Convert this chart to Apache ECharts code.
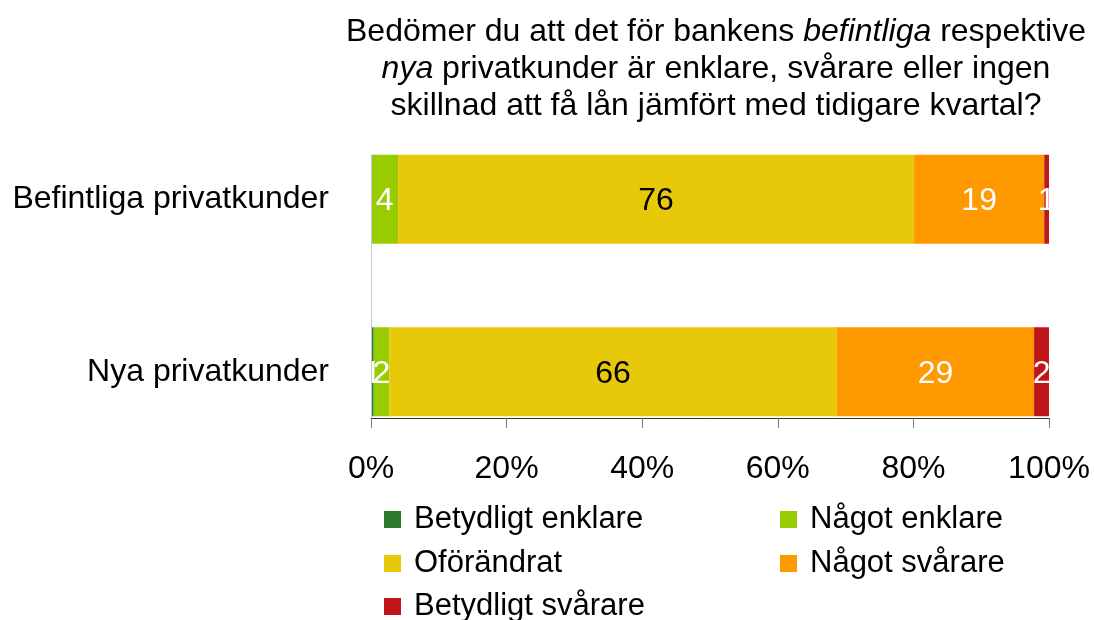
<!DOCTYPE html>
<html>
<head>
<meta charset="utf-8">
<script src="https://cdn.jsdelivr.net/npm/echarts@6/dist/echarts.min.js"></script>
<style>
	html, body { margin: 0; padding: 0; background: #fff; }
	#chart { width: 1094px; height: 620px; }
</style>
</head>
<body>
<div id="chart"></div>
<script>
const categories = ['Befintliga privatkunder', 'Nya privatkunder']
const seriesNames = ['Betydligt enklare', 'Något enklare', 'Oförändrat', 'Något svårare', 'Betydligt svårare']
const betydligtEnklare = [0, 0.4]
const nagotEnklare = [4.0, 2.3]
const oforandrat = [76.1, 66.0]
const nagotSvarare = [19.2, 29.1]
const betydligtSvarare = [0.7, 2.2]
const xTicks = [0, 20, 40, 60, 80, 100]

const colors = ['#2b7a2b', '#99cc00', '#e8c90a', '#ff9900', '#c0161a']
const labelColors = ['#fff', '#fff', '#000', '#fff', '#fff']
const values = [betydligtEnklare, nagotEnklare, oforandrat, nagotSvarare, betydligtSvarare]
const font = 'Liberation Sans, Arial, sans-serif'

// legend placement: [left, top] per series
const legendPos = [[379, 499], [775, 499], [379, 543], [775, 543], [379, 586]]

const chart = echarts.init(document.getElementById('chart'))

const option = {
	color: colors,
	animation: false,
	title: {
		text: 'Bedömer du att det för bankens {i|befintliga} respektive\n{i|nya} privatkunder är enklare, svårare eller ingen\nskillnad att få lån jämfört med tidigare kvartal?',
		left: 711,
		top: 9,
		textAlign: 'center',
		textStyle: {
			fontFamily: font,
			fontSize: 32,
			fontWeight: 'normal',
			color: '#000',
			lineHeight: 37,
			rich: {
				i: { fontFamily: font, fontSize: 32, fontStyle: 'italic', color: '#000', lineHeight: 37 }
			}
		}
	},
	legend: seriesNames.map((name, i) => ({
		data: [name],
		left: legendPos[i][0],
		top: legendPos[i][1],
		itemWidth: 17,
		itemHeight: 17,
		icon: 'rect',
		selectedMode: false,
		textStyle: { fontFamily: font, fontSize: 31, color: '#000', padding: [0, 0, 0, 8] }
	})),
	grid: [
		// bars
		{ left: 371, right: 45, top: 113, height: 345 },
		// axis frame
		{ left: 371, right: 45, top: 155, height: 263 }
	],
	xAxis: [
		{
			gridIndex: 0,
			type: 'value',
			min: 0,
			max: 100,
			show: false
		},
		{
			gridIndex: 1,
			type: 'value',
			min: 0,
			max: 100,
			interval: 20,
			z: 5,
			axisLine: { show: true, lineStyle: { color: '#333', width: 1 } },
			axisTick: { show: true, length: 10, lineStyle: { color: '#777' } },
			splitLine: { show: false },
			axisLabel: {
				margin: 35,
				fontFamily: font,
				fontSize: 32,
				color: '#000',
				formatter: v => xTicks.includes(v) ? v + '%' : ''
			}
		}
	],
	yAxis: [
		{
			gridIndex: 0,
			type: 'category',
			inverse: true,
			data: categories,
			axisLine: { show: false },
			axisTick: { show: false },
			axisLabel: {
				margin: 42,
				padding: [5, 0, 0, 0],
				fontFamily: font,
				fontSize: 32,
				color: '#000'
			}
		},
		{
			gridIndex: 1,
			type: 'category',
			inverse: true,
			data: categories,
			z: 5,
			axisLine: { show: true, lineStyle: { color: '#c8c8d4' } },
			axisTick: { show: false },
			axisLabel: { show: false }
		}
	],
	series: seriesNames.map((name, i) => ({
		name: name,
		type: 'bar',
		stack: 'total',
		xAxisIndex: 0,
		yAxisIndex: 0,
		barWidth: 89,
		data: values[i],
		itemStyle: { color: colors[i] },
		label: {
			show: true,
			position: 'inside',
			offset: [0, 2],
			fontFamily: font,
			fontSize: 32,
			color: labelColors[i],
			formatter: p => p.value > 0 ? Math.max(1, Math.round(p.value)) : ''
		}
	}))
}

chart.setOption(option)
window.addEventListener('resize', function() {
	chart.resize()
})
</script>
</body>
</html>
